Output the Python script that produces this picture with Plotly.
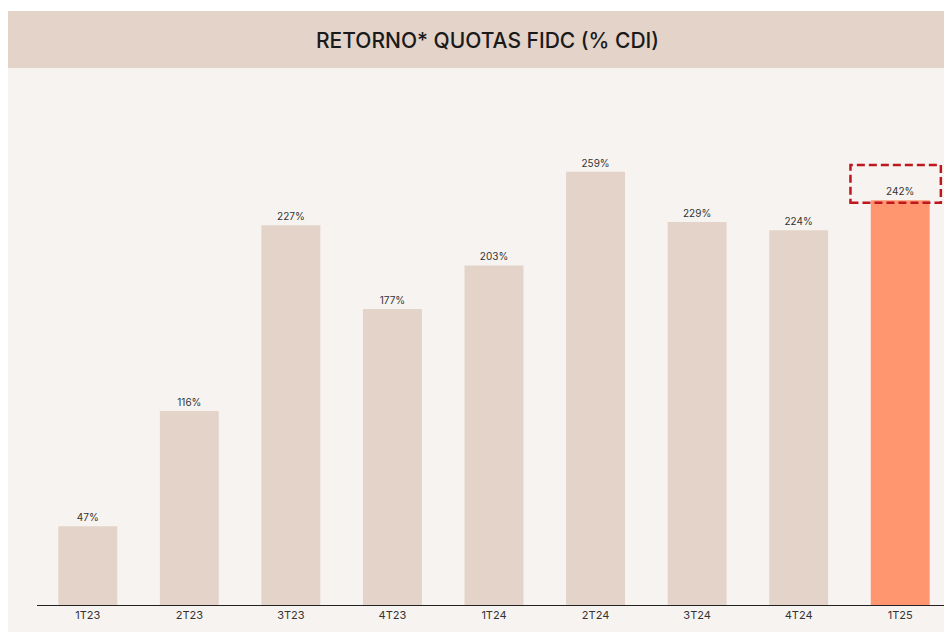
import plotly.graph_objects as go

quarters = ["1T23", "2T23", "3T23", "4T23", "1T24", "2T24", "3T24", "4T24", "1T25"]
retorno_pct_cdi = [47, 116, 227, 177, 203, 259, 229, 224, 242]
labels = [f"{v}%" for v in retorno_pct_cdi]

BAR = "#e3d3c9"
HIGHLIGHT = "#ff9670"
bar_colors = [BAR] * (len(quarters) - 1) + [HIGHLIGHT]

# the page puts the figure 8px in from the top-left corner
OFF = 8
W, H = 952 - OFF, 635 - OFF
L, R, T, B = 37 - OFF, 1, 68 - OFF, 30
pw, ph = W - L - R, H - T - B


def px_x(x):
    # x is a position in the 952x635 window
    return (x - OFF - L) / pw


def px_y(y):
    return (H - B - (y - OFF)) / ph


fig = go.Figure(
    go.Bar(
        x=quarters,
        y=retorno_pct_cdi,
        marker=dict(color=bar_colors, line=dict(width=0)),
        width=0.58,
        text=labels,
        textposition="outside",
        textfont=dict(size=10, color="#333333"),
        cliponaxis=False,
    )
)

fig.update_layout(
    width=W,
    height=H,
    margin=dict(l=L, r=R, t=T, b=B),
    paper_bgcolor="white",
    plot_bgcolor="#f7f3f0",
    font=dict(family="Inter, Lato, sans-serif", color="#333333"),
    showlegend=False,
    shapes=[
        dict(type="rect", xref="paper", yref="paper", layer="below",
             x0=px_x(8), x1=px_x(952), y0=px_y(632), y1=px_y(68),
             fillcolor="#f7f3f0", line=dict(width=0)),
        dict(type="rect", xref="paper", yref="paper", layer="below",
             x0=px_x(8), x1=px_x(952), y0=px_y(68), y1=px_y(11),
             fillcolor="#e3d3c9", line=dict(width=0)),
        dict(type="rect", xref="x", yref="y",
             x0=7.51, x1=8.40, y0=240.5, y1=263,
             line=dict(color="#c0161e", width=2.5, dash="8px,4px")),
    ],
    annotations=[
        dict(text="RETORNO* QUOTAS FIDC (% CDI)", xref="paper", yref="paper",
             x=px_x(487), y=px_y(40), yanchor="middle", showarrow=False,
             font=dict(size=21, weight=500, color="#1a1a1a",
                       family="Inter, Lato, sans-serif")),
    ],
)

fig.update_xaxes(
    showline=True, linecolor="#222222", linewidth=1,
    ticks="", tickfont=dict(size=11, color="#333333"),
    range=[-0.5, 8.5], showgrid=False,
)
fig.update_yaxes(
    range=[0, 321], visible=False, showgrid=False, zeroline=False,
)

fig.write_html("out.html")
